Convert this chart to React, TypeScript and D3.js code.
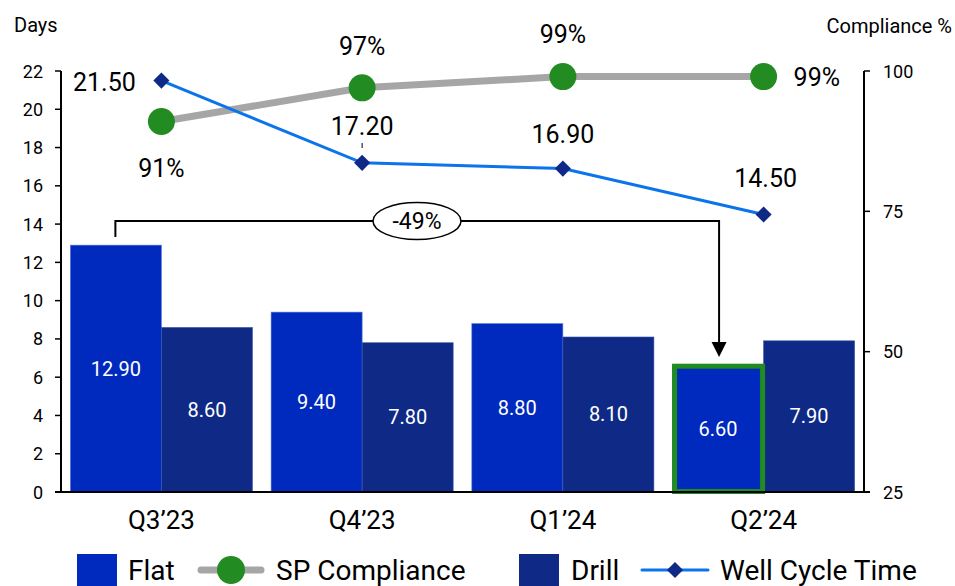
import React from "react";
import * as d3 from "d3";

const categories = ["Q3\u201923", "Q4\u201923", "Q1\u201924", "Q2\u201924"];
const flatDays = [12.9, 9.4, 8.8, 6.6];
const drillDays = [8.6, 7.8, 8.1, 7.9];
const wellCycleTime = [21.5, 17.2, 16.9, 14.5];
const spCompliance = [91, 97, 99, 99];
const leftTicks = [0, 2, 4, 6, 8, 10, 12, 14, 16, 18, 20, 22];
const rightTicks = [25, 50, 75, 100];

const W = 955;
const H = 586;
const FONT = "Roboto, 'Liberation Sans', Arial, sans-serif";
const C_FLAT = "#0029BD";
const C_DRILL = "#0F2A86";
const C_LINE = "#0B74EB";
const C_DIAMOND = "#0F2A86";
const C_GREEN = "#228B22";
const C_GRAY = "#A6A6A6";

export default function App() {
  const x0 = 61;
  const x1 = 864;
  const yTop = 71;
  const yBot = 492;
  const x = d3.scaleBand<string>().domain(categories).range([x0, x1]).paddingInner(0.093).paddingOuter(0.0467);
  const yL = d3.scaleLinear().domain([0, 22]).range([yBot, yTop]);
  const yR = d3.scaleLinear().domain([25, 100]).range([yBot, yTop]);
  const bw = x.bandwidth() / 2;
  const cx = (c: string) => (x(c) as number) + x.bandwidth() / 2;

  const wctLine = d3.line<number>().x((_, i) => cx(categories[i])).y((d) => yL(d));
  const spLine = d3.line<number>().x((_, i) => cx(categories[i])).y((d) => yR(d));
  const diamond = d3.symbol().type(d3.symbolSquare).size(130)();

  const wctLabels = [
    { dx: -57, dy: 10, anchor: "middle" },
    { dx: 0, dy: -28, anchor: "middle" },
    { dx: 0, dy: -26, anchor: "middle" },
    { dx: 2, dy: -28, anchor: "middle" },
  ];
  const spLabels = [
    { dx: 0, dy: 55, anchor: "middle" },
    { dx: 0, dy: -33, anchor: "middle" },
    { dx: 0, dy: -34, anchor: "middle" },
    { dx: 30, dy: 9, anchor: "start" },
  ];

  const firstFlatX = (x(categories[0]) as number) + bw / 2;
  const lastFlatX = (x(categories[3]) as number) + bw / 2;
  const bracketY = 221;

  return (
    <svg width={W} height={H} style={{ position: "absolute", left: 0, top: 0, background: "#fff" }} fontFamily={FONT}>
      <text x={14} y={32} fontSize={20} fill="#000">Days</text>
      <text x={952} y={33} fontSize={20} fill="#000" textAnchor="end">Compliance %</text>

      {categories.map((c, i) => {
        const bx = x(c) as number;
        return (
          <g key={c}>
            <rect x={bx} y={yL(flatDays[i])} width={bw} height={yL(0) - yL(flatDays[i])} fill={C_FLAT} stroke="#5a78d8" strokeWidth={0.6} />
            <rect x={bx + bw} y={yL(drillDays[i])} width={bw} height={yL(0) - yL(drillDays[i])} fill={C_DRILL} stroke="#3d55a8" strokeWidth={0.6} />
            <text x={bx + bw / 2} y={(yL(flatDays[i]) + yL(0)) / 2 + 7} fontSize={20} fill="#fff" textAnchor="middle">{flatDays[i].toFixed(2)}</text>
            <text x={bx + bw * 1.5} y={(yL(drillDays[i]) + yL(0)) / 2 + 7} fontSize={20} fill="#fff" textAnchor="middle">{drillDays[i].toFixed(2)}</text>
            <text x={cx(c)} y={529} fontSize={26} fill="#000" textAnchor="middle">{c}</text>
          </g>
        );
      })}

      <rect x={(x(categories[3]) as number) + 2} y={yL(flatDays[3]) + 0.5} width={bw - 3} height={yL(0) - yL(flatDays[3]) - 1} fill="none" stroke={C_GREEN} strokeWidth={5} />

      <line x1={55} x2={870} y1={yBot} y2={yBot} stroke="#000" strokeWidth={2} />
      <line x1={x0} x2={x0} y1={yTop} y2={yBot} stroke="#000" strokeWidth={2} />
      <line x1={x1} x2={x1} y1={yTop} y2={yBot} stroke="#000" strokeWidth={2} />
      {leftTicks.map((t) => (
        <g key={"l" + t}>
          <line x1={55} x2={x0} y1={yL(t)} y2={yL(t)} stroke="#000" strokeWidth={1.5} />
          <text x={43} y={yL(t) + 6.5} fontSize={18} textAnchor="end" fill="#000">{t}</text>
        </g>
      ))}
      {rightTicks.map((t) => (
        <g key={"r" + t}>
          <line x1={x1} x2={870} y1={yR(t)} y2={yR(t)} stroke="#000" strokeWidth={1.5} />
          <text x={883} y={yR(t) + 6.5} fontSize={18} textAnchor="start" fill="#000">{t}</text>
        </g>
      ))}

      <path d={`M${firstFlatX - 0.5},${237} V${bracketY} H${lastFlatX + 1} V${345}`} fill="none" stroke="#000" strokeWidth={2} />
      <path d={`M${lastFlatX + 1 - 7.5},${342} L${lastFlatX + 1 + 7.5},${342} L${lastFlatX + 1},${357} Z`} fill="#000" />
      <ellipse cx={417} cy={bracketY} rx={44} ry={18.5} fill="#fff" stroke="#000" strokeWidth={1.5} />
      <text x={417} y={bracketY + 8} fontSize={23} textAnchor="middle" fill="#000">-49%</text>

      <path d={spLine(spCompliance) || ""} fill="none" stroke={C_GRAY} strokeWidth={7} />
      {spCompliance.map((v, i) => (
        <g key={"sp" + i}>
          <circle cx={cx(categories[i])} cy={yR(v)} r={13.5} fill={C_GREEN} />
          <text x={cx(categories[i]) + spLabels[i].dx} y={yR(v) + spLabels[i].dy} fontSize={25} textAnchor={spLabels[i].anchor as any} fill="#000">{v}%</text>
        </g>
      ))}

      <path d={wctLine(wellCycleTime) || ""} fill="none" stroke={C_LINE} strokeWidth={3} />
      <line x1={cx(categories[1])} x2={cx(categories[1])} y1={143} y2={148} stroke="#000" strokeWidth={1} />
      {wellCycleTime.map((v, i) => (
        <g key={"w" + i}>
          <path d={diamond || ""} transform={`translate(${cx(categories[i])},${yL(v)}) rotate(45)`} fill={C_DIAMOND} />
          <text x={cx(categories[i]) + wctLabels[i].dx} y={yL(v) + wctLabels[i].dy} fontSize={25} textAnchor={wctLabels[i].anchor as any} fill="#000">{v.toFixed(2)}</text>
        </g>
      ))}

      <g>
        <rect x={77} y={554} width={40} height={40} fill={C_FLAT} />
        <text x={128} y={580} fontSize={28} fill="#000">Flat</text>
        <line x1={201} x2={261} y1={570} y2={570} stroke={C_GRAY} strokeWidth={7} strokeLinecap="round" />
        <circle cx={231} cy={570} r={14} fill={C_GREEN} />
        <text x={276} y={580} fontSize={28} fill="#000">SP Compliance</text>
        <rect x={519} y={554} width={40} height={40} fill={C_DRILL} />
        <text x={571} y={580} fontSize={28} fill="#000">Drill</text>
        <line x1={642} x2={708} y1={570} y2={570} stroke={C_LINE} strokeWidth={3} strokeLinecap="round" />
        <path d={diamond || ""} transform={`translate(675,570) rotate(45)`} fill={C_DIAMOND} />
        <text x={720} y={580} fontSize={28} fill="#000">Well Cycle Time</text>
      </g>
    </svg>
  );
}
